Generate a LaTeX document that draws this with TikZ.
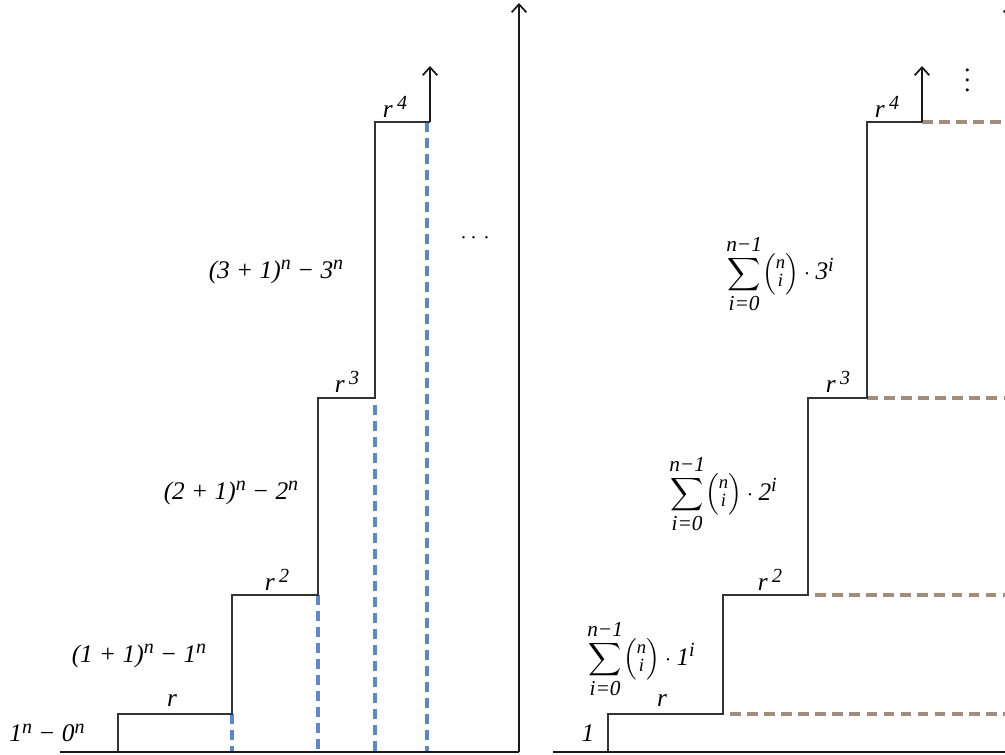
\documentclass[tikz,border=0pt]{standalone}
\usepackage{amsmath}
\usepackage{fontspec}
\setmainfont{Liberation Serif}
\usetikzlibrary{arrows.meta}
\newcommand\upr[1]{\raisebox{6.5pt}{\fontsize{15}{15}\selectfont\itshape #1}}
\newcommand\smi[1]{\mbox{\fontsize{16}{16}\selectfont\itshape #1}}
\newcommand\sumlbl[1]{$\displaystyle\sum_{\smi{i=0}}^{\smi{n−1}}\!\left(\vcenter{\hbox{\fontsize{14}{13}\selectfont\itshape\begin{tabular}{@{}c@{}}n\\ i\end{tabular}}}\right)\cdot\mbox{#1}\upr{i}$}
\newcommand\vdts{\vbox{\baselineskip=7.5pt\lineskiplimit=-10pt\hbox{.}\hbox{.}\hbox{.}}}
\definecolor{blueD}{RGB}{88,136,206}
\definecolor{brownD}{RGB}{166,139,118}
\tikzset{
  stair/.style={draw=black!80, line width=0.9pt},
  baseln/.style={draw=black!90, line width=2.2pt},
  upaxis/.style={draw=black!90, line width=1.7pt, -{Straight Barb[length=6pt,width=11pt,line width=1.3pt]}},
  bluedash/.style={draw=blueD, line width=3pt, dash pattern=on 7.5pt off 4.5pt},
  browndash/.style={draw=brownD, line width=3pt, dash pattern=on 8pt off 4.8pt},
  lbl/.style={inner sep=0pt, font=\fontsize{19}{23}\selectfont\itshape},
}
\begin{document}
\begin{tikzpicture}[x=0.75pt,y=-0.75pt]
\useasboundingbox (0,0) rectangle (1005,754);
% ---------- left panel ----------
\coordinate (LB0) at (60,752);
\coordinate (LB1) at (519,752);
\coordinate (LAx) at (519,3);
\coordinate (L0) at (118,752);
\coordinate (L1) at (118,714);
\coordinate (L2) at (232,714);
\coordinate (L3) at (232,595);
\coordinate (L4) at (318,595);
\coordinate (L5) at (318,398);
\coordinate (L6) at (375,398);
\coordinate (L7) at (375,122);
\coordinate (L8) at (430,122);
\coordinate (L9) at (430,66);
\coordinate (Ld1) at (232,752);
\coordinate (Ld2) at (318,752);
\coordinate (Ld3t) at (375,405);
\coordinate (Ld3) at (375,752);
\coordinate (Ld4t) at (427,122);
\coordinate (Ld4) at (427,752);
\draw[bluedash] (L2) -- (Ld1);
\draw[bluedash] (L4) -- (Ld2);
\draw[bluedash] (Ld3t) -- (Ld3);
\draw[bluedash] (Ld4t) -- (Ld4);
\draw[stair] (L0) -- (L1) -- (L2) -- (L3) -- (L4) -- (L5) -- (L6) -- (L7) -- (L8);
\draw[upaxis] (L8) -- (L9);
\draw[baseln] (LB0) -- (LB1);
\draw[upaxis] (LB1) -- (LAx);
\node[lbl] (la) at (47,733) {1\upr{n} − 0\upr{n}};
\node[lbl] (lr1) at (172,701) {r};
\node[lbl] (lb) at (139,656) {(1 + 1)\upr{n} − 1\upr{n}};
\node[lbl] (lr2) at (277,580) {r\,\upr{2}};
\node[lbl] (lc) at (231,493) {(2 + 1)\upr{n} − 2\upr{n}};
\node[lbl] (lr3) at (347,382) {r\,\upr{3}};
\node[lbl] (ld) at (276,272) {(3 + 1)\upr{n} − 3\upr{n}};
\node[lbl] (lr4) at (395,107) {r\,\upr{4}};
\node[lbl] (ldots) at (475,238) {${\cdot}\,{\cdot}\;{\cdot}$};
% ---------- right panel ----------
\coordinate (RB0) at (553,752);
\coordinate (RB1) at (1011,752);
\coordinate (RAx) at (1011,3);
\coordinate (R0) at (608,752);
\coordinate (R1) at (608,714);
\coordinate (R2) at (723,714);
\coordinate (R3) at (723,595);
\coordinate (R4) at (808,595);
\coordinate (R5) at (808,398);
\coordinate (R6) at (867,398);
\coordinate (R7) at (867,122);
\coordinate (R8) at (922,122);
\coordinate (R9) at (922,66);
\coordinate (Rd1s) at (730,714);
\coordinate (Rd1e) at (1011,714);
\coordinate (Rd2s) at (815,595);
\coordinate (Rd2e) at (1011,595);
\coordinate (Rd3e) at (1011,398);
\coordinate (Rd4e) at (1011,122);
\draw[browndash] (Rd1s) -- (Rd1e);
\draw[browndash] (Rd2s) -- (Rd2e);
\draw[browndash] (R6) -- (Rd3e);
\draw[browndash] (R8) -- (Rd4e);
\draw[stair] (R0) -- (R1) -- (R2) -- (R3) -- (R4) -- (R5) -- (R6) -- (R7) -- (R8);
\draw[upaxis] (R8) -- (R9);
\draw[baseln] (RB0) -- (RB1);
\draw[upaxis] (RB1) -- (RAx);
\node[lbl] (ra) at (588,733) {1};
\node[lbl] (rr1) at (662,701) {r};
\node[lbl] (rb) at (641,659) {\sumlbl{1}};
\node[lbl] (rr2) at (770,580) {r\,\upr{2}};
\node[lbl] (rc) at (723,494) {\sumlbl{2}};
\node[lbl] (rr3) at (838,382) {r\,\upr{3}};
\node[lbl] (rd) at (780,274) {\sumlbl{3}};
\node[lbl] (rr4) at (887,107) {r\,\upr{4}};
\node[lbl] (rvdots) at (968,80) {\vdts};
\end{tikzpicture}
\end{document}
